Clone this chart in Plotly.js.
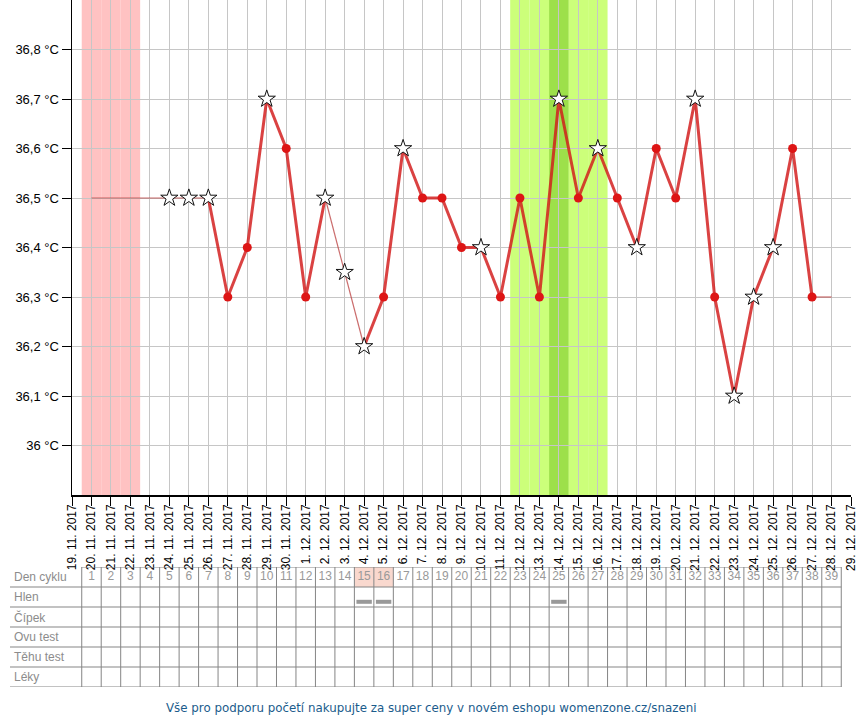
<!DOCTYPE html>
<html>
<head>
<meta charset="utf-8">
<script src="https://cdn.plot.ly/plotly-3.0.1.min.js"></script>
<style>html,body{margin:0;padding:0;background:#fff;}#chart{width:860px;height:720px;}</style>
</head>
<body>
<div id="chart"></div>
<script>
// ---- data ----
const axisDays = ['2017-11-19','2017-11-20','2017-11-21','2017-11-22','2017-11-23','2017-11-24','2017-11-25','2017-11-26','2017-11-27','2017-11-28','2017-11-29','2017-11-30',
  '2017-12-01','2017-12-02','2017-12-03','2017-12-04','2017-12-05','2017-12-06','2017-12-07','2017-12-08','2017-12-09','2017-12-10','2017-12-11','2017-12-12','2017-12-13','2017-12-14','2017-12-15','2017-12-16','2017-12-17','2017-12-18','2017-12-19','2017-12-20','2017-12-21','2017-12-22','2017-12-23','2017-12-24','2017-12-25','2017-12-26','2017-12-27','2017-12-28','2017-12-29'];
const cycleDates = axisDays.slice(1, 40);           // 20.11. – 28.12. (cycle days 1–39)
const cycleDays = [1,2,3,4,5,6,7,8,9,10,11,12,13,14,15,16,17,18,19,20,21,22,23,24,25,26,27,28,29,30,31,32,33,34,35,36,37,38,39];
const temps = [36.5,36.5,36.5,36.5,36.5,36.5,36.5,36.3,36.4,36.7,36.6,36.3,36.5,36.35,36.2,36.3,36.6,36.5,36.5,36.4,
  36.4,36.3,36.5,36.3,36.7,36.5,36.6,36.5,36.4,36.6,36.5,36.7,36.3,36.1,36.3,36.4,36.6,36.3,36.3];
// marker kind: n = none, s = star, d = dot
const marks = ['n','n','n','n','s','s','s','d','d','s','d','d','s','s','s','d','s','d','d','d',
  's','d','d','d','s','d','s','d','s','d','d','s','d','s','s','s','d','d','n'];
// 1 = value excluded / interpolated (thin line)
const excluded = [1,1,1,1,1,1,0,0,0,0,0,0,0,1,0,0,0,0,0,0, 0,0,0,0,0,0,0,0,0,0,0,0,0,0,0,0,0,0,1];
const periodDays = [1,2,3];
const fertileDays = [23,24,25,26,27];
const ovulationDays = [25];
const rowLabels = ['Den cyklu','Hlen','Čípek','Ovu test','Těhu test','Léky'];
const highlightCycleDays = [15,16];
const hlenDays = [15,16,25];
const yTickVals = [36.0,36.1,36.2,36.3,36.4,36.5,36.6,36.7,36.8];
const yTickText = ['36 °C','36,1 °C','36,2 °C','36,3 °C','36,4 °C','36,5 °C','36,6 °C','36,7 °C','36,8 °C'];
const footerText = 'Vše pro podporu početí nakupujte za super ceny v novém eshopu womenzone.cz/snazeni';

// ---- helpers ----
function fmtLabel(d){ const p = d.split('-'); return (+p[2]) + '. ' + (+p[1]) + '. ' + p[0]; }
const tickText = axisDays.map(fmtLabel);
const ms = d => new Date(d + 'T00:00:00Z').getTime();
function shift(d, h){ return new Date(ms(d) + h*3600e3).toISOString().replace('T',' ').slice(0,19); }
const xStart = axisDays[0], xEnd = axisDays[axisDays.length-1];
function paperX(d, h){ return (ms(d) + h*3600e3 - ms(xStart)) / (ms(xEnd) - ms(xStart)); }
const dateOfCycle = c => cycleDates[c-1];

// ---- traces ----
const thick = temps.map((v,i) => {
  const ok = (!excluded[i] && ((i>0 && !excluded[i-1]) || (i<temps.length-1 && !excluded[i+1])));
  return ok ? v : null;
});
const thin = temps.map((v,i) => {
  const ok = excluded[i] || (i>0 && excluded[i-1]) || (i<temps.length-1 && excluded[i+1]);
  return ok ? v : null;
});
const traces = [
  {x: cycleDates, y: thin, mode:'lines', line:{color:'rgba(185,60,60,0.75)', width:1.2}, connectgaps:false, hoverinfo:'skip', showlegend:false},
  {x: cycleDates, y: thick, mode:'lines', line:{color:'rgba(210,25,25,0.82)', width:3}, connectgaps:false, hoverinfo:'skip', showlegend:false},
  {x: cycleDates.filter((d,i)=>marks[i]==='d'), y: temps.filter((v,i)=>marks[i]==='d'), mode:'markers',
   marker:{symbol:'circle', size:9, color:'#dd1515', line:{width:0}}, showlegend:false, hoverinfo:'x+y'},
  {x: cycleDates.filter((d,i)=>marks[i]==='s'), y: temps.filter((v,i)=>marks[i]==='s'), mode:'markers',
   marker:{symbol:'star', size:13, color:'#ffffff', line:{width:1, color:'#111'}}, showlegend:false, hoverinfo:'x+y'},
  {x: cycleDates, y: cycleDays.map(()=>0.5), text: cycleDays.map(String), mode:'text', xaxis:'x2', yaxis:'y2',
   textfont:{family:'Liberation Sans, Arial, sans-serif', size:12, color:'#999'}, textposition:'middle center', hoverinfo:'skip', showlegend:false}
];

// ---- shapes ----
const shapes = [];
function band(c, color){ return {type:'rect', xref:'x', yref:'y domain', layer:'below', x0: shift(dateOfCycle(c),-12), x1: shift(dateOfCycle(c),12), y0:0, y1:1, fillcolor:color, line:{width:0}}; }
periodDays.forEach(c => shapes.push(band(c, '#ffc2c2')));
fertileDays.forEach(c => shapes.push(band(c, '#ccff7a')));
ovulationDays.forEach(c => shapes.push(band(c, '#9de04a')));
// table highlight cells
highlightCycleDays.forEach(c => shapes.push({type:'rect', xref:'x2', yref:'y2', layer:'below', x0: shift(dateOfCycle(c),-12), x1: shift(dateOfCycle(c),12), y0:0, y1:1, fillcolor:'#f9d8ce', line:{width:0}}));
// hlen bars
hlenDays.forEach(c => shapes.push({type:'rect', xref:'x2', yref:'y2', x0: shift(dateOfCycle(c),-9.5), x1: shift(dateOfCycle(c),9.5), y0:1.64, y1:1.84, fillcolor:'#999', line:{width:0}}));
// table vertical lines
cycleDates.forEach(d => shapes.push({type:'line', xref:'x2', yref:'y2', x0: shift(d,-12), x1: shift(d,-12), y0:0, y1:rowLabels.length, line:{color:'#858585', width:1}}));
const lastD = cycleDates[cycleDates.length-1];
shapes.push({type:'line', xref:'x2', yref:'y2', x0: shift(lastD,12), x1: shift(lastD,12), y0:0, y1:rowLabels.length, line:{color:'#858585', width:1}});
// table horizontal lines
shapes.push({type:'line', xref:'x2', yref:'y2', x0: shift(cycleDates[0],-12), x1: shift(lastD,12), y0:0, y1:0, line:{color:'#858585', width:1}});
const labelLeft = (10-72)/779;
for (let r=1; r<=rowLabels.length; r++) {
  shapes.push({type:'line', xref:'paper', yref:'y2', x0: labelLeft, x1: paperX(lastD,12), y0:r, y1:r, line:{color:'#858585', width:1}});
}

// ---- annotations ----
const annotations = rowLabels.map((t,i) => ({xref:'paper', yref:'y2', x:(12-72)/779, y:i+0.5, xanchor:'left', yanchor:'middle', text:t, showarrow:false,
  font:{family:'Liberation Sans, Arial, sans-serif', size:12, color:'#8c8c8c'}}));
annotations.push({xref:'paper', yref:'paper', x:(431-72)/779, y:(687-708)/687, xanchor:'center', yanchor:'middle', text:footerText, showarrow:false,
  font:{family:'DejaVu Sans, sans-serif', size:11.85, color:'#1b5c8c'}});

const mainBottom = (687-495)/687;
const layout = {
  width:860, height:720,
  margin:{l:72, r:9, t:0, b:33, pad:0},
  paper_bgcolor:'#fff', plot_bgcolor:'#fff',
  font:{family:'Liberation Sans, Arial, sans-serif', color:'#000'},
  xaxis:{type:'date', range:[xStart, xEnd], tickmode:'array', tickvals:axisDays, ticktext:tickText, tickangle:-90,
    ticks:'outside', ticklen:9, tickcolor:'#000', tickwidth:1, showline:true, linecolor:'#000', linewidth:1.5,
    showgrid:true, gridcolor:'#c6c6c6', gridwidth:1, zeroline:false, tickfont:{size:12, color:'#000'}, anchor:'y', ticklabelstandoff:-6},
  yaxis:{domain:[mainBottom,1], range:[35.9,36.9], tickmode:'array', tickvals:yTickVals, ticktext:yTickText,
    ticks:'outside', ticklen:9, tickcolor:'#000', tickwidth:1, showline:true, linecolor:'#000', linewidth:1.5,
    showgrid:true, gridcolor:'#c6c6c6', gridwidth:1, zeroline:false, tickfont:{size:13, color:'#000'}, anchor:'x'},
  xaxis2:{type:'date', range:[xStart, xEnd], visible:false, showgrid:false, anchor:'y2', matches:'x'},
  yaxis2:{domain:[0,120/687], range:[rowLabels.length,0], visible:false, showgrid:false, anchor:'x2'},
  shapes:shapes, annotations:annotations, showlegend:false
};
Plotly.newPlot('chart', traces, layout, {displayModeBar:false, staticPlot:true});
</script>
</body>
</html>
